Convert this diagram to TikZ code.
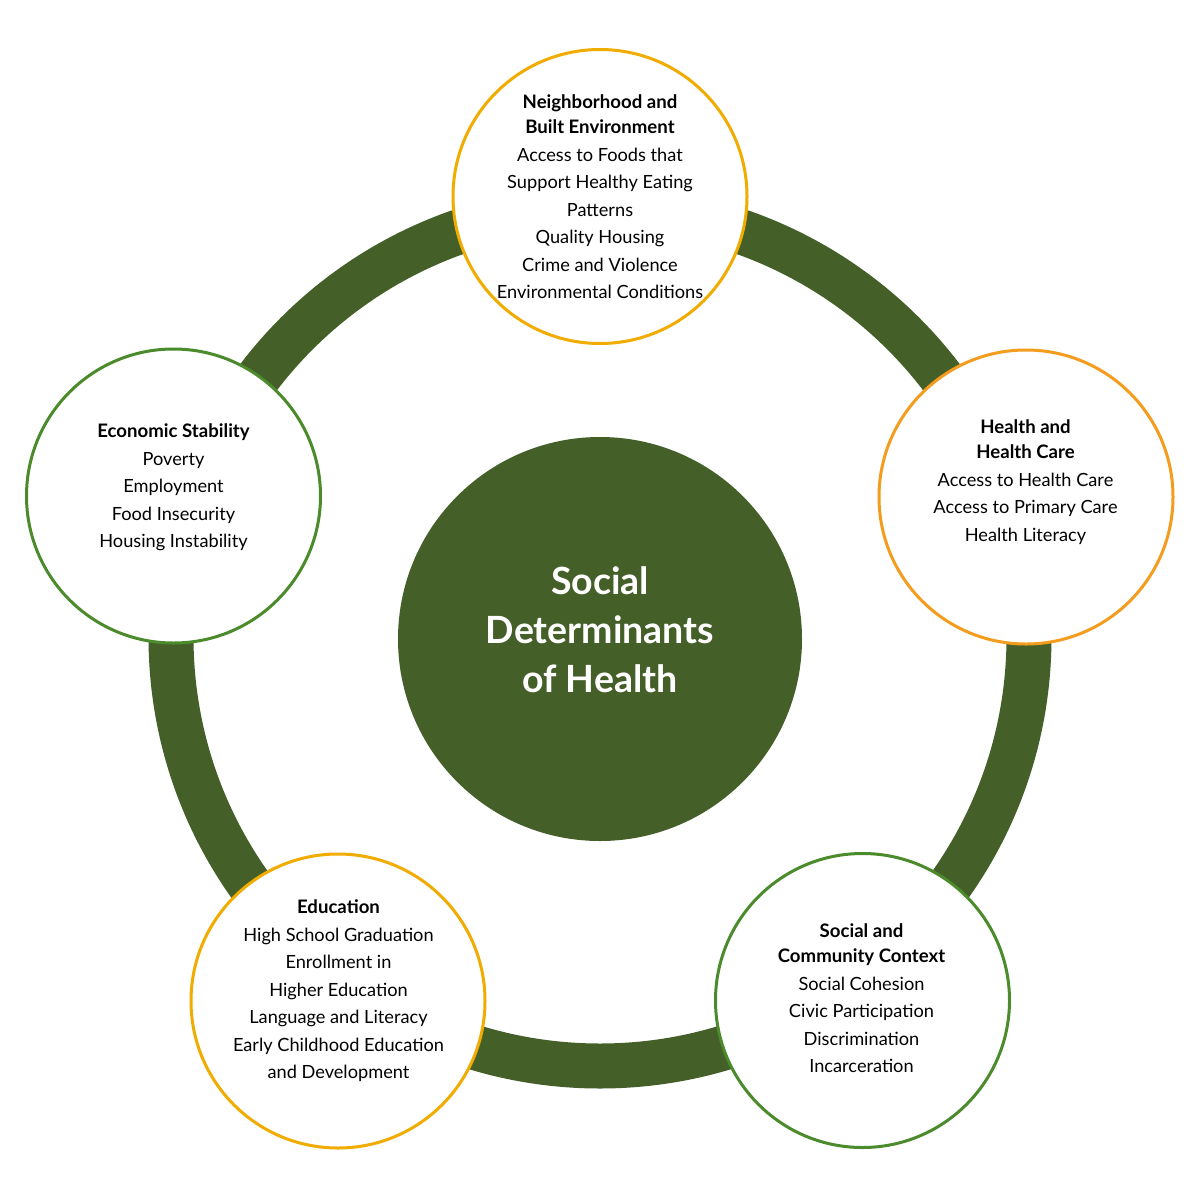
\documentclass[tikz,border=0pt]{standalone}
\usepackage{fontspec}
\setmainfont{Lato}
\definecolor{sdgreen}{HTML}{455F29}
\definecolor{ringyellow}{HTML}{F0AC00}
\definecolor{ringorange}{HTML}{F39C1E}
\definecolor{ringgreen}{HTML}{4B8B2B}
\newcommand{\hd}[1]{{\fontsize{18.6}{27.5}\selectfont\bfseries #1}}
\begin{document}
\begin{tikzpicture}[x=1pt,y=-1pt,
  ring/.style={draw=sdgreen,line width=45pt},
  topic/.style={circle,draw,fill=white,line width=3pt,minimum size=294pt,inner sep=0pt},
  topictext/.style={anchor=north,align=center,inner sep=0pt,font=\fontsize{18.2}{27.5}\selectfont},
  hub/.style={circle,fill=sdgreen,minimum size=404pt,inner sep=0pt},
  hubtext/.style={anchor=north,align=center,inner sep=0pt,text=white,font=\fontsize{37.5}{49}\selectfont\bfseries}]
\useasboundingbox (0,0) rectangle (1200,1200);
\fill[white] (0,0) rectangle (1200,1200);
\draw[ring] (600,637) circle[radius=429];
\node[hub] (hub) at (600,639) {};
\node[topic,draw=ringyellow] (nbe) at (600,196.5) {};
\node[topic,draw=ringorange] (hhc) at (1026,497) {};
\node[topic,draw=ringgreen] (eco) at (173.5,496) {};
\node[topic,draw=ringyellow] (edu) at (338,1001) {};
\node[topic,draw=ringgreen] (scc) at (862.5,1000.5) {};
\node[hubtext] (hubt) at (600,566) {Social\\Determinants\\of Health};
\node[topictext] (nbet) at (600,94.5) {\hd{Neighborhood and}\\[-2.5pt]\hd{Built Environment}\\Access to Foods that\\Support Healthy Eating\\Patterns\\Quality Housing\\Crime and Violence\\Environmental Conditions};
\node[topictext] (hhct) at (1025.5,419.5) {\hd{Health and}\\[-2.5pt]\hd{Health Care}\\Access to Health Care\\Access to Primary Care\\Health Literacy};
\node[topictext] (ecot) at (173.5,423.5) {\hd{Economic Stability}\\Poverty\\Employment\\Food Insecurity\\Housing Instability};
\node[topictext] (edut) at (338.5,899.5) {\hd{Education}\\High School Graduation\\Enrollment in\\Higher Education\\Language and Literacy\\Early Childhood Education\\and Development};
\node[topictext] (scct) at (861.5,923.5) {\hd{Social and}\\[-2.5pt]\hd{Community Context}\\Social Cohesion\\Civic Participation\\Discrimination\\Incarceration};
\end{tikzpicture}
\end{document}
